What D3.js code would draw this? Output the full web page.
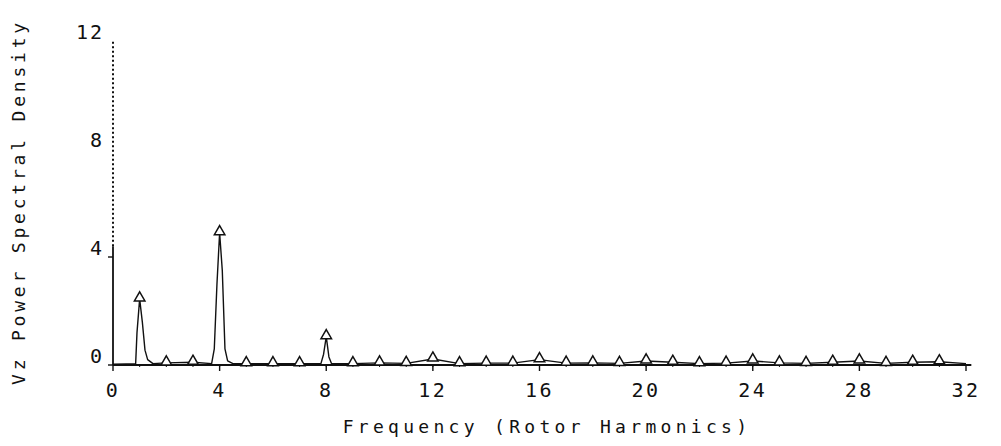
<!DOCTYPE html>
<html>
<head>
<meta charset="utf-8">
<script src="https://cdn.jsdelivr.net/npm/d3@7"></script>
<style>
  html, body { margin: 0; padding: 0; background: #fff; }
  svg { display: block; }
  text { font-family: "DejaVu Sans Mono", "Liberation Mono", monospace; fill: #111; }
</style>
</head>
<body>
<svg id="chart" width="1001" height="446"></svg>
<script>
// Spectrum trace: frequency (rotor harmonics) and Vz power spectral density
const traceFreq = [
  0, 0.5, 0.85, 0.9, 1.0, 1.1, 1.2, 1.3, 1.5,
  2, 3, 3.7, 3.8, 3.9, 4.0, 4.1, 4.2, 4.3, 4.5,
  5, 6, 7, 7.8, 7.9, 8.0, 8.1, 8.2,
  9, 10, 11, 12, 13, 14, 15, 16, 17, 18, 19, 20,
  21, 22, 23, 24, 25, 26, 27, 28, 29, 30, 31, 32
];
const tracePsd = [
  0.03, 0.04, 0.05, 1.2, 2.45, 1.6, 0.55, 0.2, 0.05,
  0.08, 0.1, 0.05, 0.6, 3.0, 4.9, 3.5, 0.6, 0.15, 0.05,
  0.05, 0.05, 0.05, 0.05, 0.4, 1.05, 0.3, 0.05,
  0.05, 0.08, 0.06, 0.22, 0.05, 0.07, 0.07, 0.2, 0.07, 0.08, 0.06, 0.15,
  0.1, 0.05, 0.07, 0.15, 0.08, 0.06, 0.1, 0.15, 0.06, 0.1, 0.12, 0.05
];

// Triangle markers at each integer harmonic
const harmonics = [1,2,3,4,5,6,7,8,9,10,11,12,13,14,15,16,17,18,19,20,21,22,23,24,25,26,27,28,29,30,31];
const harmonicPsd = [2.45,0.08,0.1,4.9,0.05,0.05,0.05,1.05,0.05,0.08,0.06,0.22,0.05,0.07,0.07,0.2,
                     0.07,0.08,0.06,0.15,0.1,0.05,0.07,0.15,0.08,0.06,0.1,0.15,0.06,0.1,0.12];

const xTicks = [0, 4, 8, 12, 16, 20, 24, 28, 32];
const xTickLabels = ["0", "4", "8", "12", "16", "20", "24", "28", "32"];
const yTicks = [0, 4, 8, 12];
const yTickLabels = ["0", "4", "8", "12"];

const xTitle = "Frequency (Rotor Harmonics)";
const yTitle = "Vz Power Spectral Density";

const svg = d3.select("#chart");

const x = d3.scaleLinear().domain([0, 32]).range([113, 966]);
const y = d3.scaleLinear().domain([0, 12]).range([365, 41]);

// Y axis: solid lower part, dotted upper part
const gy = svg.append("g");
gy.append("line")
  .attr("x1", x(0)).attr("x2", x(0))
  .attr("y1", y(0)).attr("y2", y(4.4))
  .attr("stroke", "#111").attr("stroke-width", 1.8);
gy.append("line")
  .attr("x1", x(0)).attr("x2", x(0))
  .attr("y1", y(4.4)).attr("y2", y(12))
  .attr("stroke", "#111").attr("stroke-width", 2)
  .attr("stroke-dasharray", "2,2.5");
gy.selectAll("line.major")
  .data(yTicks.slice(0, 2))
  .join("line")
  .attr("class", "major")
  .attr("x1", x(0) - 5).attr("x2", x(0))
  .attr("y1", d => y(d)).attr("y2", d => y(d))
  .attr("stroke", "#111").attr("stroke-width", 1.4);
gy.selectAll("text")
  .data(yTicks)
  .join("text")
  .attr("x", x(0) - 9)
  .attr("y", d => y(d) - 9)
  .attr("text-anchor", "end")
  .attr("dominant-baseline", "central")
  .attr("font-size", 20)
  .attr("letter-spacing", 2)
  .text((d, i) => yTickLabels[i]);

// X axis line and ticks
const gx = svg.append("g");
gx.append("line")
  .attr("x1", x(0)).attr("x2", x(32.2))
  .attr("y1", y(0)).attr("y2", y(0))
  .attr("stroke", "#111").attr("stroke-width", 1.8);
gx.selectAll("line.minor")
  .data(d3.range(1, 32))
  .join("line")
  .attr("class", "minor")
  .attr("x1", d => x(d)).attr("x2", d => x(d))
  .attr("y1", y(0)).attr("y2", y(0) + 2)
  .attr("stroke", "#111").attr("stroke-width", 1);
gx.selectAll("line.major")
  .data(xTicks)
  .join("line")
  .attr("class", "major")
  .attr("x1", d => x(d)).attr("x2", d => x(d))
  .attr("y1", y(0)).attr("y2", y(0) + 6)
  .attr("stroke", "#111").attr("stroke-width", 1.4);
gx.selectAll("text")
  .data(xTicks)
  .join("text")
  .attr("x", d => x(d))
  .attr("y", 390)
  .attr("text-anchor", "middle")
  .attr("dominant-baseline", "central")
  .attr("font-size", 20)
  .attr("letter-spacing", 2.5)
  .text((d, i) => xTickLabels[i]);

// Spectrum trace
const pts = traceFreq.map((f, i) => [f, tracePsd[i]]);
svg.append("path")
  .datum(pts)
  .attr("fill", "none")
  .attr("stroke", "#111")
  .attr("stroke-width", 1.4)
  .attr("stroke-linejoin", "round")
  .attr("d", d3.line().x(d => x(d[0])).y(d => y(d[1])));

// Triangle markers
const tri = d3.symbol().type(d3.symbolTriangle).size(48);
svg.selectAll("path.marker")
  .data(harmonics)
  .join("path")
  .attr("class", "marker")
  .attr("transform", (d, i) => `translate(${x(d)},${y(harmonicPsd[i]) - 1})`)
  .attr("d", tri)
  .attr("fill", "#fff")
  .attr("stroke", "#111")
  .attr("stroke-width", 1.5);

// Axis titles
svg.append("text")
  .attr("x", 547)
  .attr("y", 426)
  .attr("text-anchor", "middle")
  .attr("dominant-baseline", "central")
  .attr("font-size", 18)
  .attr("letter-spacing", 4.3)
  .text(xTitle);

svg.append("text")
  .attr("transform", "translate(18,202) rotate(-90)")
  .attr("text-anchor", "middle")
  .attr("dominant-baseline", "central")
  .attr("font-size", 18)
  .attr("letter-spacing", 3.8)
  .text(yTitle);
</script>
</body>
</html>
